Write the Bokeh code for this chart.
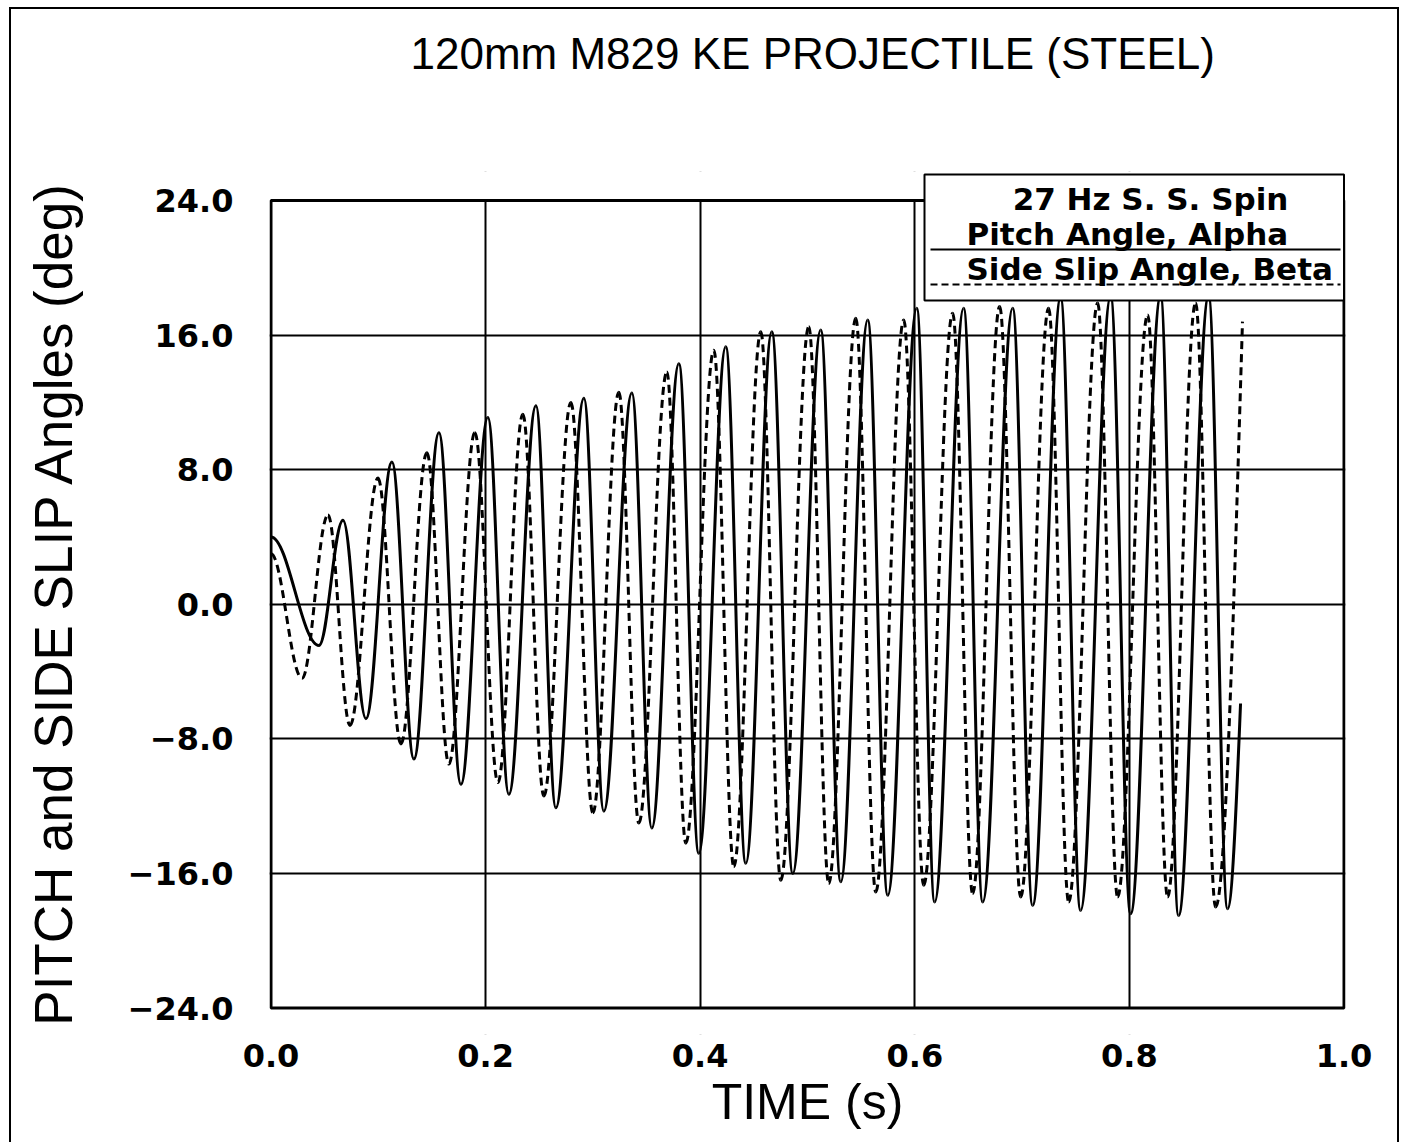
from bokeh.plotting import figure
from bokeh.models import (FixedTicker, BoxAnnotation, Label, Arrow, Range1d,
                          ColumnDataSource, Title)
from bokeh.embed import file_html
from bokeh.resources import INLINE

# Turning points of the pitch angle trace: time (s) and angle (deg).
# The last entry is where the record stops.
alpha_t = [0.0, 0.0447, 0.0671, 0.0885, 0.1127, 0.1332, 0.1565, 0.1770, 0.2021, 0.2217,
           0.2469, 0.2655, 0.2916, 0.3102, 0.3363, 0.3549, 0.3801, 0.3987, 0.4238, 0.4425,
           0.4667, 0.4863, 0.5123, 0.5310, 0.5561, 0.5748, 0.6018, 0.6185, 0.6455, 0.6633,
           0.6912, 0.7098, 0.7359, 0.7545, 0.7825, 0.8011, 0.8291, 0.8458, 0.8738, 0.8915,
           0.9036]
alpha_deg = [4.0, -2.45, 5.0, -6.8, 8.45, -9.2, 10.2, -10.7, 11.1, -11.3,
             11.8, -12.1, 12.25, -12.3, 12.55, -13.3, 14.3, -14.8, 15.3, -15.4,
             16.2, -16.0, 16.3, -16.5, 16.9, -17.3, 17.6, -17.7, 17.6, -17.7,
             17.6, -17.9, 18.2, -18.2, 18.3, -18.4, 18.3, -18.5, 18.3, -18.1,
             -5.9]

# Turning points of the side slip angle trace.
beta_t = [0.0, 0.0289, 0.0531, 0.0736, 0.0997, 0.1211, 0.1453, 0.1658, 0.1900, 0.2115,
          0.2347, 0.2543, 0.2795, 0.3000, 0.3242, 0.3428, 0.3689, 0.3866, 0.4127, 0.4313,
          0.4565, 0.4751, 0.5012, 0.5198, 0.5450, 0.5636, 0.5897, 0.6083, 0.6353, 0.6539,
          0.6791, 0.6987, 0.7247, 0.7434, 0.7704, 0.7890, 0.8170, 0.8356, 0.8617, 0.8803,
          0.9054]
beta_deg = [3.0, -4.4, 5.3, -7.2, 7.5, -8.3, 9.0, -9.5, 10.2, -10.6,
            11.3, -11.4, 12.0, -12.4, 12.6, -13.0, 13.8, -14.2, 15.1, -15.6,
            16.2, -16.4, 16.5, -16.6, 17.0, -17.1, 16.9, -16.7, 17.3, -17.2,
            17.7, -17.4, 17.6, -17.7, 17.9, -17.4, 17.2, -17.4, 17.9, -18.0,
            16.8]

x_ticks = [0.0, 0.2, 0.4, 0.6, 0.8, 1.0]
x_tick_labels = ["0.0", "0.2", "0.4", "0.6", "0.8", "1.0"]
y_ticks = [-24, -16, -8, 0, 8, 16, 24]
y_tick_labels = ["\u221224.0", "\u221216.0", "\u22128.0", "0.0", "8.0", "16.0", "24.0"]

title_text = "120mm M829 KE PROJECTILE (STEEL)"
legend_title = "27 Hz S. S. Spin"
alpha_name = "Pitch Angle, Alpha"
beta_name = "Side Slip Angle, Beta"

# axis box in data units
X0, X1 = 0.0, 1.0
Y0, Y1 = -24.0, 24.0

# page layout in pixels
ORIGIN_X, ORIGIN_Y = 11, 9          # top-left of the figure's drawing area
FIG_W, FIG_H = 1390, 1135
BOX_L, BOX_R, BOX_T, BOX_B = 270.5, 1343.5, 200.0, 1007.5   # axis box (line centres)
CANVAS_T, CANVAS_B = 171, 1034      # drawing area: room for the key box, label centred
HALF_LINE = 1.5

x_per_px = (X1 - X0) / (BOX_R - BOX_L)
y_per_px = (Y1 - Y0) / (BOX_B - BOX_T)
x_range = Range1d(X0 - HALF_LINE * x_per_px, X1 + HALF_LINE * x_per_px)
y_range = Range1d(Y0 - (CANVAS_B - BOX_B) * y_per_px, Y1 + (BOX_T - CANVAS_T) * y_per_px)


def px_x(px):
    return X0 + (px - BOX_L) * x_per_px


def px_y(py):
    return Y1 - (py - BOX_T) * y_per_px


def swing_segments(t, v, k=0.364):
    """One cubic Bezier per swing between turning points, flat at each turning point."""
    cols = {c: [] for c in ("x0", "y0", "x1", "y1", "cx0", "cy0", "cx1", "cy1")}
    n = len(t)
    for i in range(n - 1):
        dt = t[i + 1] - t[i]
        cols["x0"].append(t[i]); cols["y0"].append(v[i])
        cols["x1"].append(t[i + 1]); cols["y1"].append(v[i + 1])
        cols["cx0"].append(t[i] + k * dt); cols["cy0"].append(v[i])
        if i == n - 2:
            # record ends mid-swing: arrive with some slope
            cols["cx1"].append(t[i + 1] - 0.3 * dt)
            cols["cy1"].append(v[i + 1] - 0.45 * (v[i + 1] - v[i]))
        else:
            cols["cx1"].append(t[i + 1] - k * dt); cols["cy1"].append(v[i + 1])
    return ColumnDataSource(cols)


frame_left = int(round(BOX_L - HALF_LINE))
frame_right = int(round(BOX_R + HALF_LINE))

p = figure(width=FIG_W, height=FIG_H, x_range=x_range, y_range=y_range,
           output_backend="svg", toolbar_location=None,
           min_border_left=frame_left - ORIGIN_X,
           min_border_right=ORIGIN_X + FIG_W - frame_right,
           min_border_top=CANVAS_T - ORIGIN_Y,
           min_border_bottom=ORIGIN_Y + FIG_H - CANVAS_B,
           background_fill_color="white", border_fill_color="white",
           margin=(7, 0, 0, 9))
p.styles = {"border-left": "2px solid black", "border-top": "2px solid black",
            "border-right": "2px solid black"}
p.outline_line_color = None

# title, lifted clear of the axis box by a blank strip
p.title.text = title_text
p.title.align = "left"
p.title.offset = 141
p.title.vertical_align = "bottom"
p.title.standoff = 0
p.title.text_font = "Liberation Sans"
p.title.text_font_style = "normal"
p.title.text_font_size = "44px"
p.title.text_color = "black"
p.add_layout(Title(text=" ", text_font_size="10px", standoff=81), "above")

# axes
for ax in (p.xaxis[0], p.yaxis[0]):
    ax.axis_line_color = None
    ax.major_tick_line_color = None
    ax.minor_tick_line_color = None
    ax.major_label_text_font = "DejaVu Sans"
    ax.major_label_text_font_style = "bold"
    ax.major_label_text_font_size = "32px"
    ax.major_label_text_color = "black"
    ax.axis_label_text_font = "Liberation Sans"
    ax.axis_label_text_font_style = "normal"
    ax.axis_label_text_color = "black"

p.xaxis.ticker = FixedTicker(ticks=x_ticks)
p.xaxis.major_label_overrides = dict(zip(x_ticks, x_tick_labels))
p.xaxis.major_label_standoff = 3
p.xaxis.axis_label = "TIME (s)"
p.xaxis.axis_label_text_font_size = "50px"
p.xaxis.axis_label_standoff = 4

p.yaxis.ticker = FixedTicker(ticks=y_ticks)
p.yaxis.major_label_overrides = dict(zip(y_ticks, y_tick_labels))
p.yaxis.major_label_standoff = 30
p.yaxis.axis_label = "PITCH and SIDE SLIP Angles (deg)"
p.yaxis.axis_label_text_font_size = "53px"
p.yaxis.axis_label_standoff = 42

# grid: interior lines only, the axis box supplies the edges
p.xgrid.ticker = FixedTicker(ticks=x_ticks[1:-1])
p.ygrid.ticker = FixedTicker(ticks=y_ticks[1:-1])
for g in (p.xgrid[0], p.ygrid[0]):
    g.grid_line_color = "black"
    g.grid_line_width = 2
    g.grid_line_alpha = 1.0

# traces
p.bezier(x0="x0", y0="y0", x1="x1", y1="y1", cx0="cx0", cy0="cy0", cx1="cx1", cy1="cy1",
         source=swing_segments(alpha_t, alpha_deg), line_color="black", line_width=3)
p.bezier(x0="x0", y0="y0", x1="x1", y1="y1", cx0="cx0", cy0="cy0", cx1="cx1", cy1="cy1",
         source=swing_segments(beta_t, beta_deg), line_color="black", line_width=3,
         line_dash="8 5")

# blank strips above and below the axis box keep grid lines inside it
x_pad = 10 * x_per_px
y_pad = 10 * y_per_px
for lo, hi in ((Y1, y_range.end + y_pad), (y_range.start - y_pad, Y0)):
    p.add_layout(BoxAnnotation(left=x_range.start - x_pad, right=x_range.end + x_pad,
                               bottom=lo, top=hi,
                               fill_color="white", fill_alpha=1.0, line_color=None))
# axis box
p.add_layout(BoxAnnotation(left=X0, right=X1, bottom=Y0, top=Y1,
                           fill_color=None, line_color="black", line_width=3, line_alpha=1.0))

# key box in the upper right
p.add_layout(BoxAnnotation(left=px_x(924), right=X1, bottom=px_y(300), top=px_y(174),
                           fill_color="white", fill_alpha=1.0,
                           line_color="black", line_width=2, line_alpha=1.0))
p.add_layout(Arrow(end=None, x_start=px_x(930), x_end=px_x(1340), y_start=px_y(249), y_end=px_y(249),
                   line_color="black", line_width=2))
p.add_layout(Arrow(end=None, x_start=px_x(930), x_end=px_x(1340), y_start=px_y(284), y_end=px_y(284),
                   line_color="black", line_width=2, line_dash="7 4"))

key_font = dict(text_font="DejaVu Sans", text_font_style="bold",
                text_font_size="31px", text_color="black", text_baseline="middle")
p.add_layout(Label(x=px_x(1150), y=px_y(198), text=legend_title, text_align="center", **key_font))
p.add_layout(Label(x=px_x(966), y=px_y(233), text=alpha_name, text_align="left", **key_font))
p.add_layout(Label(x=px_x(966), y=px_y(268), text=beta_name, text_align="left", **key_font))

open("out.html", "w").write(file_html(p, INLINE))
